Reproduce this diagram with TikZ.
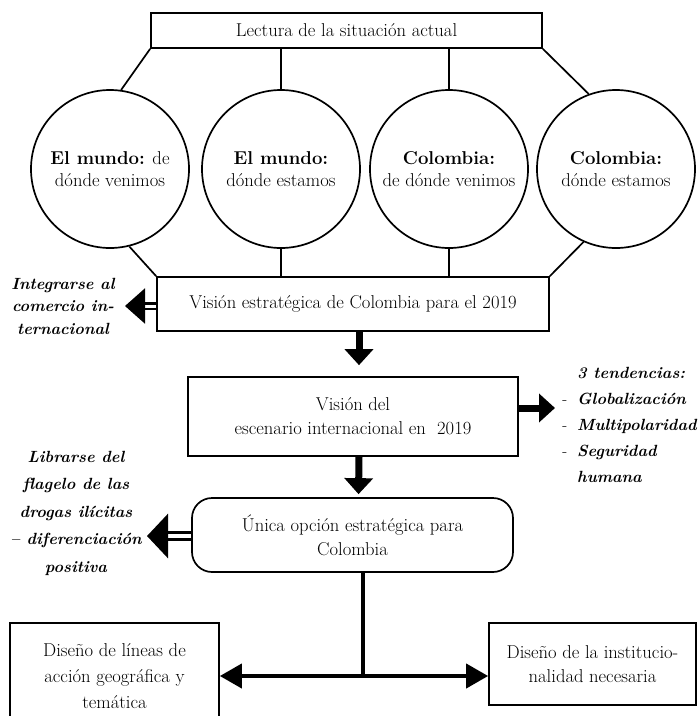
\documentclass[tikz,border=0pt]{standalone}
\usepackage{fontspec}
\usetikzlibrary{arrows.meta}

\tikzset{
  caja/.style={draw, line width=1.7pt, align=center, inner sep=0pt, font=\fontsize{18.6}{24}\selectfont},
  circulo/.style={draw, circle, line width=1.7pt, minimum size=158pt, inner sep=0pt, align=center, font=\fontsize{18.6}{22}\selectfont},
  nota/.style={align=center, inner sep=0pt, font=\fontsize{16.2}{22.5}\selectfont\bfseries\itshape},
  linea/.style={line width=1.7pt},
  flecha/.style={line width=7pt, -{Triangle[length=16pt,width=28pt]}},
  flechadoble/.style={double, line width=2.2pt, double distance=3pt, -{Triangle[length=20pt,width=35pt]}},
  flechabaja/.style={line width=4pt, {Triangle[length=22pt,width=24pt]}-{Triangle[length=22pt,width=24pt]}}
}

\begin{document}
\begin{tikzpicture}[x=1pt,y=-1pt]
  \useasboundingbox (0,0) rectangle (699,716);

  \node[caja, minimum width=391pt, minimum height=35pt] (lectura) at (346.5,30.5) {Lectura de la situación actual};

  \node[circulo] (mundoA) at (110,169) {\textbf{El mundo:} de\\dónde venimos};
  \node[circulo] (mundoB) at (281,169) {\textbf{El mundo:}\\dónde estamos};
  \node[circulo] (colombiaA) at (449,169) {\textbf{Colombia:}\\de dónde venimos};
  \node[circulo] (colombiaB) at (616,169) {\textbf{Colombia:}\\dónde estamos};

  \node[caja, minimum width=392pt, minimum height=54pt] (vision) at (353,304) {Visión estratégica de Colombia para el 2019};
  \node[caja, minimum width=330pt, minimum height=79pt] (escenario) at (353,416.5) {Visión del\\escenario internacional en\ \ 2019};
  \node[caja, rounded corners=20pt, minimum width=321pt, minimum height=74pt] (opcion) at (352.5,535) {Única opción estratégica para\\Colombia};
  \node[caja, minimum width=209pt, minimum height=106pt, font=\fontsize{18.6}{26}\selectfont] (lineas) at (114.5,676) {Diseño de líneas de\\acción geográfica y\\temática};
  \node[caja, minimum width=207pt, minimum height=82pt] (institucion) at (592.5,664) {Diseño de la institucio-\\nalidad necesaria};

  \node[nota] (integrar) at (63,306) {Integrarse al\\comercio in-\\ternacional};
  \node[nota, font=\fontsize{16.2}{27.5}\selectfont\bfseries\itshape] (librarse) at (76,513) {Librarse del\\flagelo de las\\drogas ilícitas\\– diferenciación\\positiva};
  \node[nota, align=left, anchor=west, font=\fontsize{16.2}{26}\selectfont\bfseries\itshape] (tendencias) at (577,425)
    {3 tendencias:\\\llap{\normalfont-\hspace{10pt}}Globalización\\\llap{\normalfont-\hspace{10pt}}Multipolaridad\\\llap{\normalfont-\hspace{10pt}}Seguridad\\humana};

  \draw[linea] (lectura.south west) -- (mundoA.82);
  \draw[linea] (lectura.south -| mundoB) -- (mundoB);
  \draw[linea] (lectura.south -| colombiaA) -- (colombiaA);
  \draw[linea] (lectura.south east) -- (colombiaB.110);
  \draw[linea] (mundoA.-76) -- (vision.north west);
  \draw[linea] (mundoB) -- (mundoB |- vision.north);
  \draw[linea] (colombiaA) -- (colombiaA |- vision.north);
  \draw[linea] (colombiaB.-114) -- (vision.north east);

  \draw[flecha, shorten >=11pt] ([xshift=6pt]vision.south) -- ([xshift=6pt]escenario.north);
  \draw[flecha, shorten >=3pt] ([xshift=6pt]escenario.south) -- ([xshift=6pt]opcion.north);

  \coordinate (puntaT) at (555,408);
  \draw[flecha] (escenario.east |- puntaT) -- (puntaT);

  \coordinate (puntaI) at (125,306);
  \draw[flechadoble] (vision.west |- puntaI) -- (puntaI);
  \coordinate (puntaL) at (147,536);
  \draw[flechadoble, line width=3pt, double distance=4pt, -{Triangle[length=21pt,width=44pt]}] (opcion.west |- puntaL) -- (puntaL);

  \coordinate (cruce) at (363,676);
  \draw[line width=4pt] (opcion.south -| cruce) -- (cruce);
  \draw[flechabaja] (lineas.east |- cruce) -- (institucion.west |- cruce);
\end{tikzpicture}
\end{document}
